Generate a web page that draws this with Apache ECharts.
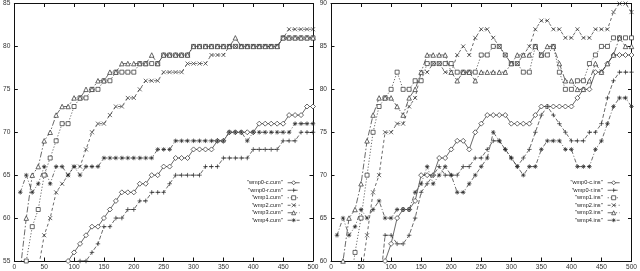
<!DOCTYPE html>
<html><head><meta charset="utf-8">
<script src="https://cdn.jsdelivr.net/npm/echarts@6/dist/echarts.min.js"></script>
<style>html,body{margin:0;padding:0;background:#fff}#c{width:640px;height:271px}</style>
</head><body><div id="c"></div>
<script>
const xs = [10,20,30,40,50,60,70,80,90,100,110,120,130,140,150,160,170,180,190,200,210,220,230,240,250,260,270,280,290,300,310,320,330,340,350,360,370,380,390,400,410,420,430,440,450,460,470,480,490,500];

const leftNames = ['wmp0-c.cum','wmp0-r.cum','wmp1.cum','wmp2.cum','wmp3.cum','wmp4.cum'];
const rightNames = ['wmp0-c.ins','wmp0-r.ins','wmp1.ins','wmp2.ins','wmp3.ins','wmp4.ins'];

const wmp0c_cum = [null,null,null,null,null,null,null,54,55,56, 57,58,59,59,60,61,62,63,63,63, 64,64,65,65,66,66,67,67,67,68, 68,68,68,69,69,70,70,70,70,70, 71,71,71,71,71,72,72,72,73,73];
const wmp0r_cum = [null,null,null,null,null,null,null,null,null,54, 55,55,56,57,59,59,60,60,61,61, 62,62,63,63,63,64,65,65,65,65, 65,66,66,66,67,67,67,67,67,68, 68,68,68,68,69,69,69,70,70,70];
const wmp1_cum  = [null,55,59,61,65,67,69,71,71,73, 74,74,75,75,76,76,77,77,77,77, 78,78,78,78,79,79,79,79,79,80, 80,80,80,80,80,80,80,80,80,80, 80,80,80,80,81,81,81,81,81,81];
const wmp2_cum  = [null,null,null,54,58,60,63,64,65,66, 66,68,70,71,71,72,73,73,74,74, 75,76,76,76,77,77,77,77,78,78, 78,78,79,79,79,80,80,80,80,80, 80,80,80,80,81,82,82,82,82,82];
const wmp3_cum  = [54,60,65,66,69,70,72,73,73,74, 74,75,75,76,76,77,77,78,78,78, 78,78,79,78,79,79,79,79,79,80, 80,80,80,80,80,80,81,80,80,80, 80,80,80,80,81,81,81,81,81,81];
const wmp4_cum  = [63,65,63,64,66,64,66,66,65,66, 65,66,66,66,67,67,67,67,67,67, 67,67,67,68,68,68,69,69,69,69, 69,69,69,69,69,70,70,70,69,70, 70,70,70,70,70,70,71,71,71,71];

const wmp0c_ins = [null,null,null,null,null,null,null,57,60,62, 65,66,66,67,70,70,70,72,72,73, 74,74,73,75,76,77,77,77,77,76, 76,76,76,77,78,78,78,78,78,78, 79,80,80,82,82,83,84,84,84,84];
const wmp0r_ins = [null,null,null,null,null,null,null,56,63,63, 62,62,63,65,68,69,70,71,70,70, 70,71,71,72,72,73,74,74,73,72, 71,72,73,75,77,78,77,76,75,74, 74,74,75,75,76,79,81,82,82,82];
const wmp1_ins  = [null,null,56,61,65,70,75,78,79,80, 82,80,80,81,81,83,83,83,83,83, 82,82,82,82,84,84,85,85,84,83, 83,82,82,85,84,84,85,82,80,80, 81,81,83,84,85,85,86,86,86,86];
const wmp2_ins  = [null,null,null,null,58,63,68,70,75,75, 76,76,78,79,82,82,83,83,82,82, 84,85,84,86,87,87,86,85,84,83, 83,84,85,87,88,88,87,87,86,86, 87,86,86,87,87,87,89,90,90,89];
const wmp3_ins  = [55,60,65,66,69,74,77,79,79,79, 78,77,79,80,82,84,84,84,84,82, 81,82,82,81,82,82,82,82,82,83, 84,84,84,85,84,85,85,83,81,81, 80,80,81,83,82,83,84,86,85,85];
const wmp4_ins  = [63,65,63,64,66,65,66,67,65,65, 66,66,66,68,69,71,69,70,71,70, 68,68,69,70,71,72,75,74,73,72, 71,70,71,71,73,74,74,74,73,73, 71,71,71,73,74,76,78,79,79,78];

const leftVals = [wmp0c_cum, wmp0r_cum, wmp1_cum, wmp2_cum, wmp3_cum, wmp4_cum];
const rightVals = [wmp0c_ins, wmp0r_ins, wmp1_ins, wmp2_ins, wmp3_ins, wmp4_ins];

const symbols = ['diamond','path://M5,0V10M0,5H10','rect','path://M0,0L10,10M10,0L0,10','triangle','path://M5,0V10M0,5H10M1.5,1.5L8.5,8.5M8.5,1.5L1.5,8.5'];
const symSizes = [5,4.5,4,4,4.5,4.5];
const dashes = ['solid',[4,2],[1.2,1.8],[3,2.5],[6,2,1.5,2],[4,2,1,2]];

const FONT = 'Liberation Sans';
const LINE = '#2a2a2a';

function pairs(vals){ const out=[]; vals.forEach((v,i)=>{ if(v!==null) out.push([xs[i], v]); }); return out; }

function mkSeries(names, vals, gi){
  return names.map((n,k)=>({
    name: n, type:'line', xAxisIndex: gi*2, yAxisIndex: gi*2,
    data: pairs(vals[k]), clip: true, animation:false,
    symbol: symbols[k], symbolSize: symSizes[k], showSymbol: true,
    lineStyle:{color:LINE, width:0.7, type:dashes[k]},
    itemStyle:{color:'#fff', borderColor:LINE, borderWidth:0.7},
    emphasis:{disabled:true}
  }));
}

const axisLabel = {fontFamily:FONT, fontSize:6.6, color:'#333', margin:3};
function xAx(gi, pos){
  return {type:'value', gridIndex:gi, position:pos, min:0, max:500, interval:50,
    axisLine:{show:true, onZero:false, lineStyle:{color:'#111', width:1}},
    axisTick:{show:true, inside:true, length:3.5, lineStyle:{color:'#111'}},
    axisLabel: pos==='bottom'? Object.assign({show:true, showMinLabel:true, showMaxLabel:true}, axisLabel) : {show:false},
    splitLine:{show:false}};
}
function yAx(gi, pos, mn, mx){
  return {type:'value', gridIndex:gi, position:pos, min:mn, max:mx, interval:5,
    axisLine:{show:true, onZero:false, lineStyle:{color:'#111', width:1}},
    axisTick:{show:true, inside:true, length:3.5, lineStyle:{color:'#111'}},
    axisLabel: pos==='left'? Object.assign({show:true, showMinLabel:true, showMaxLabel:true}, axisLabel, {margin:4}) : {show:false},
    splitLine:{show:false}};
}

const legendBase = {orient:'vertical', align:'right', padding:0, itemGap:0, itemWidth:12, itemHeight:5,
  textStyle:{fontFamily:FONT, fontSize:5.6, color:'#222', lineHeight:7.5},
  itemStyle:{color:'#fff', borderColor:LINE, borderWidth:0.7},
  lineStyle:{color:LINE, width:0.7},
  formatter: n => '"' + n + '"', selectedMode:false};

const chart = echarts.init(document.getElementById('c'), null, {renderer:'canvas'});
chart.setOption({
  animation:false,
  backgroundColor:'#fff',
  grid:[{left:11, top:3, width:302, height:258},{left:331, top:3, width:302, height:258}],
  xAxis:[xAx(0,'bottom'), xAx(0,'top'), xAx(1,'bottom'), xAx(1,'top')],
  yAxis:[yAx(0,'left',55,85), yAx(0,'right',55,85), yAx(1,'left',60,90), yAx(1,'right',60,90)],
  legend:[
    Object.assign({}, legendBase, {data:leftNames, right:340, top:179}),
    Object.assign({}, legendBase, {data:rightNames, right:20, top:179})
  ],
  series: mkSeries(leftNames, leftVals, 0).concat(mkSeries(rightNames, rightVals, 1))
});
</script>
</body></html>
